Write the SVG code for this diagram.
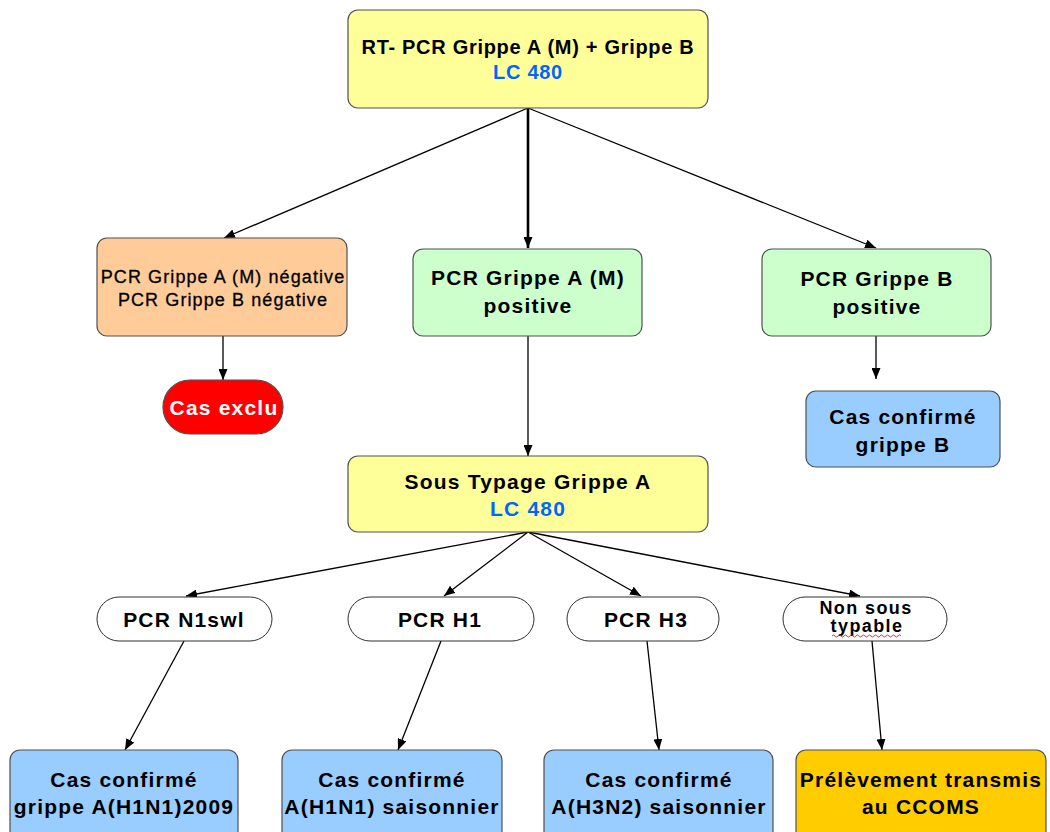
<svg xmlns="http://www.w3.org/2000/svg" width="1050" height="832" viewBox="0 0 1050 832">
  <defs>
    <marker id="arrow" markerUnits="userSpaceOnUse" markerWidth="11" markerHeight="9" refX="11" refY="4.5" orient="auto">
      <path d="M0,0 L11,4.5 L0,9 z" fill="#000"/>
    </marker>
    <style>
      .box { stroke: #505050; stroke-width: 1.2; }
      .oval { fill: #fff; stroke: #303030; stroke-width: 1; }
      .t { font-family: "Liberation Sans", Arial, sans-serif; font-weight: bold; fill: #000; text-anchor: middle; font-size: 21px; letter-spacing: 1.2px; }
      .top { font-size: 20px; letter-spacing: 0.7px; }
      .reg { font-family: "Liberation Sans", Arial, sans-serif; font-weight: normal; fill: #000; stroke: #000; stroke-width: 0.3; text-anchor: middle; font-size: 18px; letter-spacing: 1.1px; }
      .small { font-size: 18px; letter-spacing: 1.4px; }
      .blue { fill: #0066ff; }
      .white { fill: #fff; }
      .conn { stroke: #000; stroke-width: 1.3; fill: none; marker-end: url(#arrow); }
      .thick { stroke-width: 2.6; }
    </style>
  </defs>
  <rect width="1050" height="832" fill="#fff"/>

  <g id="connectors">
    <line class="conn" x1="528" y1="108" x2="224" y2="238"/>
    <line class="conn thick" x1="528" y1="108" x2="528" y2="248"/>
    <line class="conn" x1="528" y1="108" x2="876" y2="248"/>
    <line class="conn" x1="223" y1="336" x2="223" y2="380"/>
    <line class="conn" x1="876" y1="336" x2="876" y2="379"/>
    <line class="conn" x1="528" y1="336" x2="528" y2="456"/>
    <line class="conn" x1="528" y1="532" x2="186" y2="596"/>
    <line class="conn" x1="528" y1="532" x2="444" y2="596"/>
    <line class="conn" x1="528" y1="532" x2="641" y2="596"/>
    <line class="conn" x1="528" y1="532" x2="860" y2="596"/>
    <line class="conn" x1="184" y1="641" x2="125" y2="750"/>
    <line class="conn" x1="441" y1="641" x2="398" y2="750"/>
    <line class="conn" x1="647" y1="641" x2="659" y2="750"/>
    <line class="conn" x1="872" y1="641" x2="882" y2="750"/>
  </g>

  <g id="rtpcr">
    <rect class="box" x="348" y="10" width="360" height="98" rx="10" fill="#ffff99"/>
    <text class="t top" x="528" y="54">RT- PCR Grippe A (M) + Grippe B</text>
    <text class="t top blue" x="528" y="79">LC 480</text>
  </g>

  <g id="negative">
    <rect class="box" x="97" y="238" width="250" height="98" rx="10" fill="#ffcc99"/>
    <text class="reg" x="223" y="283">PCR Grippe A (M) négative</text>
    <text class="reg" x="223" y="306">PCR Grippe B négative</text>
  </g>

  <g id="cas-exclu">
    <rect class="box" x="163" y="380" width="120" height="54" rx="27" fill="#ff0000"/>
    <text class="t white" x="224" y="415">Cas exclu</text>
  </g>

  <g id="grippe-a-positive">
    <rect class="box" x="413" y="249" width="229" height="87" rx="10" fill="#ccffcc"/>
    <text class="t" x="528" y="285">PCR Grippe A (M)</text>
    <text class="t" x="528" y="313">positive</text>
  </g>

  <g id="grippe-b-positive">
    <rect class="box" x="762" y="249" width="229" height="87" rx="10" fill="#ccffcc"/>
    <text class="t" x="877" y="286">PCR Grippe B</text>
    <text class="t" x="877" y="314">positive</text>
  </g>

  <g id="confirme-b">
    <rect class="box" x="806" y="391" width="194" height="76" rx="10" fill="#99ccff"/>
    <text class="t" x="903" y="424">Cas confirmé</text>
    <text class="t" x="903" y="452">grippe B</text>
  </g>

  <g id="sous-typage">
    <rect class="box" x="348" y="456" width="360" height="76" rx="10" fill="#ffff99"/>
    <text class="t" x="528" y="489">Sous Typage Grippe A</text>
    <text class="t blue" x="528" y="516">LC 480</text>
  </g>

  <g id="pcr-n1swl">
    <rect class="oval" x="97" y="597" width="175" height="44" rx="22"/>
    <text class="t" x="184" y="627">PCR N1swl</text>
  </g>

  <g id="pcr-h1">
    <rect class="oval" x="348" y="597" width="186" height="44" rx="22"/>
    <text class="t" x="440" y="627">PCR H1</text>
  </g>

  <g id="pcr-h3">
    <rect class="oval" x="567" y="597" width="152" height="44" rx="22"/>
    <text class="t" x="646" y="627">PCR H3</text>
  </g>

  <g id="non-sous-typable">
    <rect class="oval" x="783" y="597" width="164" height="44" rx="22"/>
    <text class="t small" x="866" y="614">Non sous</text>
    <text class="t small" x="867" y="632">typable</text>
    <path d="M832,636 q1.5,-2 3,0 t3,0 t3,0 t3,0 t3,0 t3,0 t3,0 t3,0 t3,0 t3,0 t3,0 t3,0 t3,0 t3,0 t3,0 t3,0 t3,0 t3,0 t3,0 t3,0 t3,0 t3,0 t3,0" fill="none" stroke="#e02020" stroke-width="0.9"/>
  </g>

  <g id="confirme-h1n1-2009">
    <rect class="box" x="10" y="750" width="228" height="100" rx="10" fill="#99ccff"/>
    <text class="t" x="124" y="787">Cas confirmé</text>
    <text class="t" x="124" y="814">grippe A(H1N1)2009</text>
  </g>

  <g id="confirme-h1n1-saisonnier">
    <rect class="box" x="282" y="750" width="220" height="100" rx="10" fill="#99ccff"/>
    <text class="t" x="392" y="787">Cas confirmé</text>
    <text class="t" x="392" y="814">A(H1N1) saisonnier</text>
  </g>

  <g id="confirme-h3n2-saisonnier">
    <rect class="box" x="544" y="750" width="229" height="100" rx="10" fill="#99ccff"/>
    <text class="t" x="659" y="787">Cas confirmé</text>
    <text class="t" x="659" y="814">A(H3N2) saisonnier</text>
  </g>

  <g id="ccoms">
    <rect class="box" x="796" y="750" width="250" height="100" rx="10" fill="#ffcc00"/>
    <text class="t" x="921" y="787">Prélèvement transmis</text>
    <text class="t" x="921" y="814">au CCOMS</text>
  </g>
</svg>
